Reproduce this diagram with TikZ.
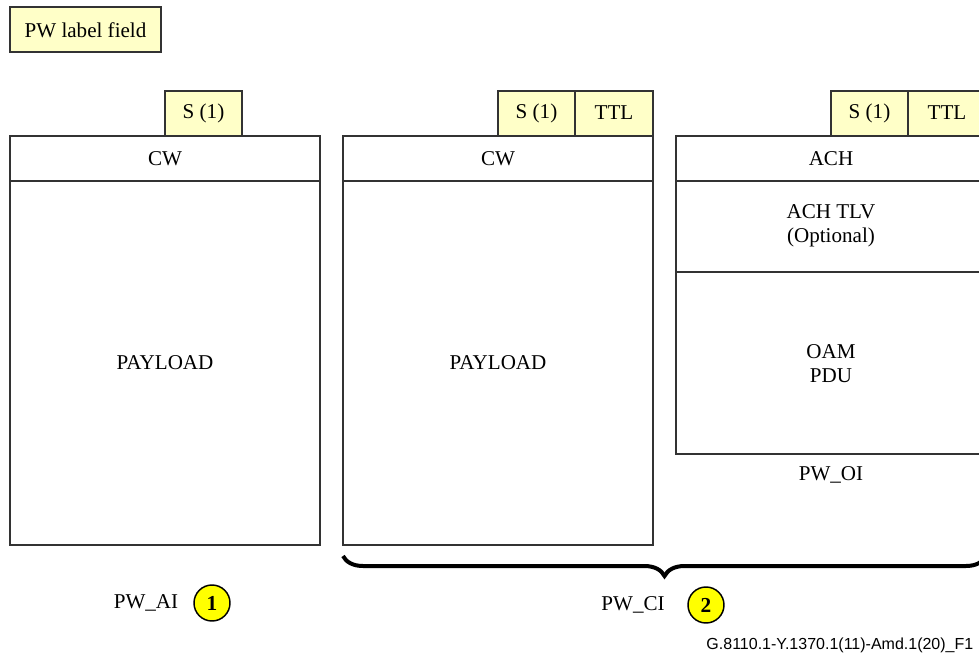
\documentclass[tikz,border=0pt]{standalone}
\usepackage{fontspec}
\setmainfont{Liberation Serif}
\newfontfamily\figfont{Liberation Sans}
\usetikzlibrary{decorations.pathreplacing}
\definecolor{fieldyellow}{RGB}{255,255,200}
\definecolor{markyellow}{RGB}{255,255,0}
\begin{document}
\begin{tikzpicture}[x=0.75pt,y=-0.75pt,font=\fontsize{15.8}{18}\selectfont,
  frame/.style={draw=black!80,line width=1.1pt},
  field/.style={frame,fill=fieldyellow},
  pwnum/.style={circle,draw=black,line width=1.1pt,fill=markyellow,minimum size=27pt,inner sep=0pt,font=\fontsize{16}{18}\selectfont\bfseries}]
\useasboundingbox (0,0) rectangle (979,657);
\clip (0,0) rectangle (979,657);
% legend
\filldraw[field] (10,7) rectangle (161,52);
\node (legend) at (85.5,30) {PW label field};
% PW_AI
\filldraw[field] (165,91) rectangle (242,136);
\node (ai-s) at (203.5,113) {S (1)};
\draw[frame] (10,136) rectangle (320,545);
\draw[frame] (10,181)--(320,181);
\node (ai-cw) at (165,159) {CW};
\node (ai-pl) at (165,363) {PAYLOAD};
\node (ai-name) at (146,603) {PW\_AI};
\node[pwnum] (ai-num) at (212,603) {1};
% PW_CI
\filldraw[field] (498,91) rectangle (575,136);
\filldraw[field] (575,91) rectangle (653,136);
\node (ci-s) at (536.5,113) {S (1)};
\node (ci-ttl) at (614,113) {TTL};
\draw[frame] (343,136) rectangle (653,545);
\draw[frame] (343,181)--(653,181);
\node (ci-cw) at (498,159) {CW};
\node (ci-pl) at (498,363) {PAYLOAD};
% PW_OI
\filldraw[field] (831,91) rectangle (908,136);
\filldraw[field] (908,91) rectangle (986,136);
\node (oi-s) at (869.5,113) {S (1)};
\node (oi-ttl) at (947,113) {TTL};
\draw[frame] (676,136) rectangle (986,454);
\draw[frame] (676,181)--(986,181);
\draw[frame] (676,272)--(986,272);
\node (oi-ach) at (831,159) {ACH};
\node[align=center] (oi-tlv) at (831,226) {ACH TLV\\(Optional)};
\node[align=center] (oi-pdu) at (831,364) {OAM\\PDU};
\node (oi-name) at (831,475) {PW\_OI};
% brace
\draw[decorate,decoration={brace,mirror,amplitude=15pt},line width=3pt] (343,556)--(986,556);
\node (ci-name) at (633,605) {PW\_CI};
\node[pwnum] (ci-num) at (706,605) {2};
\node[anchor=east,font=\figfont\fontsize{12}{14}\selectfont] (tag) at (978,645) {G.8110.1-Y.1370.1(11)-Amd.1(20)\_F1};
\end{tikzpicture}
\end{document}
